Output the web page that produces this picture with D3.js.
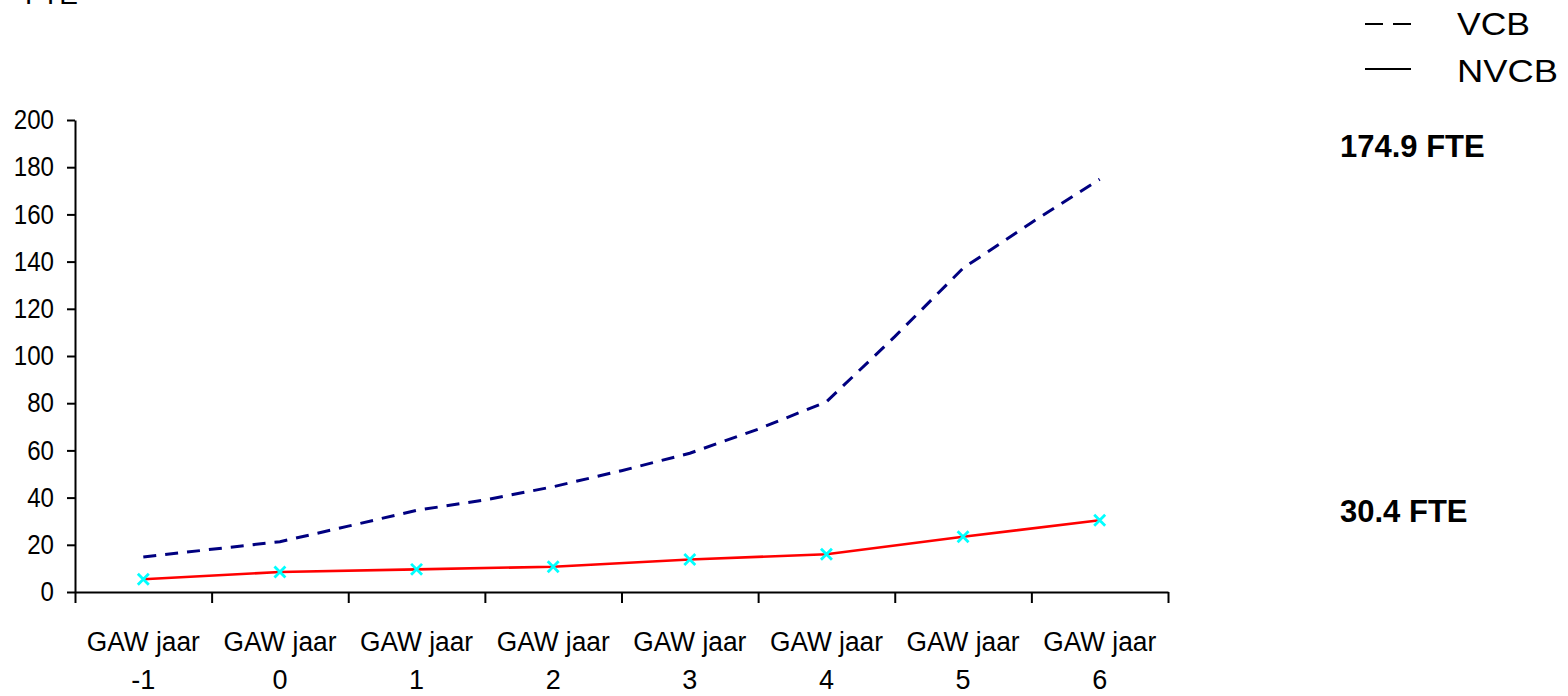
<!DOCTYPE html>
<html>
<head>
<meta charset="utf-8">
<script src="https://cdn.jsdelivr.net/npm/d3@7"></script>
<style>
  html, body { margin: 0; padding: 0; background: #ffffff; }
  svg { display: block; font-family: "Liberation Sans", Arial, sans-serif; }
</style>
</head>
<body>
<svg id="chart" width="1568" height="696"></svg>
<script>
// Category labels (two lines each) and year index of each category
const categoryLine1 = ["GAW jaar", "GAW jaar", "GAW jaar", "GAW jaar", "GAW jaar", "GAW jaar", "GAW jaar", "GAW jaar"];
const categoryLine2 = ["-1", "0", "1", "2", "3", "4", "5", "6"];
const categoryYears = [-1, 0, 1, 2, 3, 4, 5, 6];

// NVCB: one value per GAW year
const nvcbValues = [5.4, 8.5, 9.6, 10.7, 13.8, 16.0, 23.4, 30.4];

// VCB: half-year resolution
const vcbYears  = [-1, -0.5, 0, 0.5, 1, 1.5, 2, 2.5, 3, 3.5, 4, 4.5, 5, 5.5, 6];
const vcbValues = [14.8, 18.1, 21.3, 27.9, 34.6, 39.0, 44.6, 51.4, 58.8, 69.0, 80.6, 108.2, 137.2, 156.5, 174.9];

const yTicks = [0, 20, 40, 60, 80, 100, 120, 140, 160, 180, 200];
const legendLabels = ["VCB", "NVCB"];
const endLabels = ["174.9 FTE", "30.4 FTE"];
const yTitle = "FTE";

const svg = d3.select("#chart");

const plot = { left: 75, right: 1168, top: 120, bottom: 592 };

const x = d3.scaleLinear().domain([-1.5, 6.5]).range([plot.left, plot.right]);
const y = d3.scaleLinear().domain([0, 200]).range([plot.bottom, plot.top]);

// y-axis title, sitting at the very top edge
svg.append("text")
  .attr("x", 25).attr("y", 4)
  .attr("font-size", 28)
  .attr("fill", "#000")
  .text(yTitle);

// Y axis
const yAxis = d3.axisLeft(y).tickValues(yTicks).tickSize(8).tickPadding(13).tickSizeOuter(0);
const gy = svg.append("g").attr("transform", `translate(${plot.left},0)`).call(yAxis);
gy.select(".domain").attr("stroke", "#000").attr("stroke-width", 2);
gy.selectAll(".tick line").attr("stroke", "#000").attr("stroke-width", 2);
gy.selectAll(".tick text")
  .attr("font-size", 27)
  .attr("font-family", "\"Liberation Sans\", Arial, sans-serif")
  .attr("fill", "#000")
  .attr("textLength", d => String(d).length * 13.4)
  .attr("lengthAdjust", "spacingAndGlyphs");

// X axis: ticks on the category boundaries
const boundaries = d3.range(-1.5, 7, 1);
const xAxis = d3.axisBottom(x).tickValues(boundaries).tickSize(11).tickFormat("").tickSizeOuter(0);
const gx = svg.append("g").attr("transform", `translate(0,${plot.bottom})`).call(xAxis);
gx.select(".domain").attr("stroke", "#000").attr("stroke-width", 2);
gx.selectAll(".tick line").attr("stroke", "#000").attr("stroke-width", 2);

// Category labels
const catLabels = svg.append("g")
  .attr("font-size", 27)
  .attr("fill", "#000")
  .attr("text-anchor", "middle");
catLabels.selectAll("text.l1")
  .data(categoryYears)
  .join("text")
  .attr("class", "l1")
  .attr("x", d => x(d))
  .attr("y", 651)
  .attr("textLength", 113)
  .attr("lengthAdjust", "spacingAndGlyphs")
  .text((d, i) => categoryLine1[i]);
catLabels.selectAll("text.l2")
  .data(categoryYears)
  .join("text")
  .attr("class", "l2")
  .attr("x", d => x(d))
  .attr("y", 689)
  .text((d, i) => categoryLine2[i]);

// VCB dashed line
const vcbData = vcbYears.map((yr, i) => ({ yr, v: vcbValues[i] }));
const line = d3.line().x(d => x(d.yr)).y(d => y(d.v));
svg.append("path")
  .datum(vcbData)
  .attr("d", line)
  .attr("fill", "none")
  .attr("stroke", "#000080")
  .attr("stroke-width", 3)
  .attr("stroke-dasharray", "13,9");

// NVCB solid line with markers
const nvcbData = categoryYears.map((yr, i) => ({ yr, v: nvcbValues[i] }));
svg.append("path")
  .datum(nvcbData)
  .attr("d", line)
  .attr("fill", "none")
  .attr("stroke", "#ff0000")
  .attr("stroke-width", 2.6);

const cross = d3.symbol().type(d3.symbolX).size(80);
svg.append("g").selectAll("path")
  .data(nvcbData)
  .join("path")
  .attr("transform", d => `translate(${x(d.yr)},${y(d.v)})`)
  .attr("d", cross)
  .attr("fill", "none")
  .attr("stroke", "#00ffff")
  .attr("stroke-width", 2.8);

// Legend
const legend = svg.append("g");
legend.append("line")
  .attr("x1", 1365).attr("x2", 1411).attr("y1", 24).attr("y2", 24)
  .attr("stroke", "#000").attr("stroke-width", 1.8)
  .attr("stroke-dasharray", "18,10");
legend.append("line")
  .attr("x1", 1365).attr("x2", 1411).attr("y1", 69).attr("y2", 69)
  .attr("stroke", "#000").attr("stroke-width", 1.8);
legend.selectAll("text")
  .data(legendLabels)
  .join("text")
  .attr("x", 1457)
  .attr("y", (d, i) => 35 + i * 47)
  .attr("font-size", 31)
  .attr("textLength", (d, i) => i === 0 ? 73 : 101)
  .attr("lengthAdjust", "spacingAndGlyphs")
  .attr("fill", "#000")
  .text(d => d);

// End-value labels
const endValues = [vcbValues[vcbValues.length - 1], nvcbValues[nvcbValues.length - 1]];
svg.append("g").selectAll("text")
  .data(endLabels)
  .join("text")
  .attr("x", 1340)
  .attr("y", (d, i) => i === 0 ? 157 : 522)
  .attr("font-size", 31)
  .attr("font-weight", "bold")
  .attr("fill", "#000")
  .text((d, i) => `${endValues[i]} FTE`);
</script>
</body>
</html>
